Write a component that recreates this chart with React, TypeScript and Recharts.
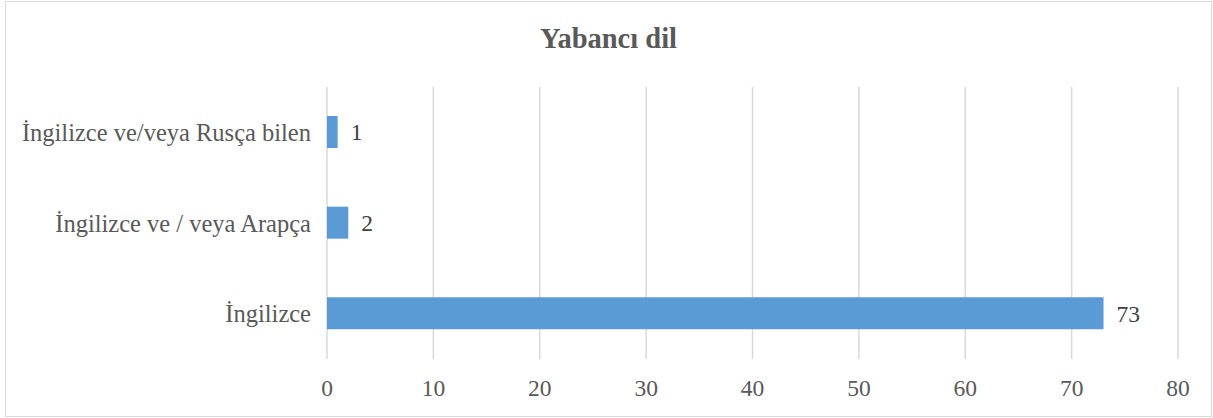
import { BarChart, Bar, XAxis, YAxis, CartesianGrid, LabelList } from "recharts";

const categories = ["İngilizce ve/veya Rusça bilen", "İngilizce ve / veya Arapça", "İngilizce"];
const counts = [1, 2, 73];
const xTicks = [0, 10, 20, 30, 40, 50, 60, 70, 80];

const data = categories.map((name, i) => ({ name, value: counts[i] }));

const FONT = '"Liberation Serif", "Times New Roman", serif';

export default function App() {
  return (
    <div
      style={{
        position: "absolute",
        left: 5,
        top: 1,
        width: 1207,
        height: 416,
        border: "1px solid #d9d9d9",
        boxSizing: "border-box",
        background: "#fff",
        fontFamily: FONT,
      }}
    >
      <div
        style={{
          position: "absolute",
          left: 0,
          top: 17,
          width: "100%",
          height: 40,
          lineHeight: "40px",
          textAlign: "center",
          fontSize: 28.5,
          fontWeight: "bold",
          color: "#595959",
        }}
      >
        Yabancı dil
      </div>
      <BarChart
        width={1205}
        height={414}
        data={data}
        layout="vertical"
        margin={{ top: 85, right: 33, left: 0, bottom: 0 }}
      >
        <CartesianGrid horizontal={false} stroke="#d9d9d9" strokeWidth={1.5} />
        <XAxis
          type="number"
          domain={[0, 80]}
          ticks={xTicks}
          axisLine={false}
          tickLine={false}
          tickSize={0}
          tickMargin={20}
          height={57}
          interval={0}
          tick={{ fill: "#595959", fontSize: 23.5, fontFamily: FONT }}
        />
        <YAxis
          type="category"
          dataKey="name"
          width={321}
          axisLine={false}
          tickLine={false}
          tickSize={0}
          tickMargin={16}
          interval={0}
          tick={{ fill: "#595959", fontSize: 24.5, fontFamily: FONT }}
        />
        <Bar dataKey="value" fill="#5b9bd5" barSize={32} isAnimationActive={false}>
          <LabelList
            dataKey="value"
            position="right"
            offset={13}
            fill="#404040"
            fontSize={23.5}
            fontFamily={FONT}
          />
        </Bar>
      </BarChart>
    </div>
  );
}
